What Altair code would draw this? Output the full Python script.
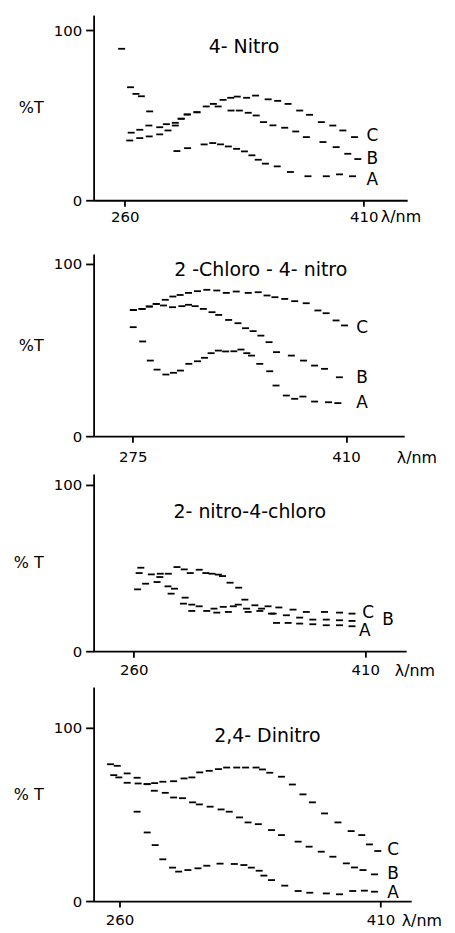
import altair as alt
import pandas as pd

FONT = "DejaVu Sans"

# ---------------- Panel 1 : 4-Nitro ----------------
P1_A_NM = [258, 263.6, 267, 270.4, 275.6, 292.7, 299.4, 309.8, 315.2, 320.1, 325, 330.2, 335.1,
           339.8, 343.8, 348.3, 355.7, 364, 375, 386.5, 394.8, 403]
P1_A_T = [89, 66.4, 62.5, 61.1, 52.2, 28.9, 30.6, 32.8, 33.6, 32.8, 31.6, 30.2, 28.7,
          26.4, 23.8, 21.5, 19.9, 16.6, 14.1, 14.1, 15.2, 14.1]
P1_B_NM = [264, 269.4, 275.1, 281.9, 286.1, 291.7, 295.4, 299.2, 305.3, 318.6, 326.7, 331.9,
           337.5, 342.5, 347.1, 353, 360.4, 367.3, 374, 384.4, 392.7, 400, 406.3]
P1_B_T = [39.7, 41.4, 43.9, 42.9, 44.7, 45.5, 47.9, 50.4, 51.7, 55.1, 52.7, 52.7,
          51.4, 49.8, 45.9, 44, 42.6, 40.4, 37.1, 34.2, 31.2, 27.3, 24.2]
P1_C_NM = [263.1, 269.4, 275.3, 281.9, 287.1, 291.7, 295.4, 299.2, 305.3, 311.1, 315.6, 321.7,
           326.5, 330.6, 336.5, 342.1, 350, 356, 362.5, 369.8, 376, 383.4, 390.6, 396.9, 404.2]
P1_C_T = [35.1, 36.5, 37.5, 38.7, 41, 43.9, 47.9, 50.4, 51.7, 55.1, 56.6, 59,
          60.2, 60.9, 60.2, 61.5, 59.3, 58.4, 56.6, 52.7, 50.2, 45.9, 43.9, 41, 37.1]

# ---------------- Panel 2 : 2-Chloro-4-nitro ----------------
P2_A_NM = [275.3, 281.3, 286.1, 290.4, 296, 300.8, 305.2, 310.5, 316, 320.4, 324.6, 329.2, 333.8,
           339, 343.5, 347.2, 350.2, 355.4, 361.7, 365.7, 372.2, 377.5, 382.7, 390.1, 398.9, 404.8]
P2_A_T = [63.3, 55, 43.9, 38.7, 35.8, 36.8, 38.1, 42, 43.5, 45.5, 48.2, 49.7, 49.2,
          49.3, 50.3, 48.2, 46.8, 42, 37.7, 29.4, 23.6, 21.7, 23, 20.1, 19.7, 19.2]
P2_B_NM = [275.4, 280.9, 285.5, 289.9, 294.5, 300.2, 306.1, 310.3, 314.5, 319.7, 325.2, 329.4,
           335.7, 341.6, 346.4, 351.2, 356.1, 361.3, 366, 375.4, 383.1, 390.1, 396.4, 405.8]
P2_B_T = [73.3, 73.9, 75.3, 76.8, 75.9, 74.9, 75.5, 76.3, 75.5, 73.9, 72, 70.4,
          67.5, 65.6, 62.7, 61, 58.4, 54.6, 48.8, 46.8, 43.9, 41, 39.1, 34.2]
P2_C_NM = [275.4, 280.9, 285.5, 289.9, 295.6, 300.4, 305, 310.3, 316, 321.9, 328.2, 334.2, 340.5,
           348.1, 354.4, 360, 365, 371.2, 377.5, 384.8, 392.2, 397.4, 403.7, 409]
P2_C_T = [73.3, 73.9, 75.3, 76.8, 79.2, 81.1, 82, 83.2, 84.2, 85, 84.6, 83.2, 84,
          83.2, 83.6, 81.7, 80.7, 79.7, 78.4, 77.2, 73, 71.4, 67.2, 64.3]

# ---------------- Panel 3 : 2-nitro-4-chloro ----------------
P3_A_NM = [262.5, 267.7, 275.1, 284.2, 292.2, 297.6, 307.3, 313.8, 321.3, 334.1, 341.7, 349.2,
           352.5, 360, 367.5, 376, 384.7, 393.3, 401.4]
P3_A_T = [37.2, 40.6, 41.6, 34.6, 28.6, 24.2, 24.2, 23.2, 23.6, 23.6, 24.2, 22.6,
          17, 17, 16.6, 16.2, 15.6, 15.6, 15]
P3_B_NM = [263.5, 271.4, 276.9, 282.2, 286.4, 293.3, 297.6, 302.4, 312, 318, 324.5, 327.7, 333.1,
           342.8, 350.3, 358.9, 367.5, 376, 384.7, 393.3, 401.4]
P3_B_T = [47, 46.2, 44.6, 39, 37.6, 32.2, 28, 27, 25.6, 26.6, 27, 28, 25.6,
          25.6, 22.6, 21.6, 20.2, 19, 19, 18.6, 18.2]
P3_C_NM = [264.6, 277.2, 282.4, 288, 292.7, 296.6, 302.4, 306.7, 310.7, 314.8, 317.5, 322.4, 328,
           332, 338.5, 347, 354, 363.2, 371.8, 383.6, 393.3, 401.4]
P3_C_T = [50.2, 46.6, 46.6, 50.6, 49.2, 47, 49, 47, 46.6, 46, 45.2, 41.2, 38.2,
          31, 27.6, 27, 26.3, 25, 23.6, 23.6, 23.2, 22.6]

# ---------------- Panel 4 : 2,4-Dinitro ----------------
P4_A_NM = [270.1, 275.9, 280.5, 284.9, 290.5, 294, 299.3, 305.1, 310.2, 317.8, 326, 331.5, 335.8,
           340.3, 343, 347.4, 355, 362.7, 369.4, 378.9, 386.5, 394.1, 400.8, 406.6]
P4_A_T = [51.6, 39.6, 32.3, 24.1, 19.3, 17, 17.9, 18.9, 20.4, 21.6, 21.4, 20.8, 19.3,
          17.5, 14.7, 12.1, 8.9, 5.8, 4.8, 4.4, 3.9, 5.8, 6, 5.4]
P4_B_NM = [254.8, 258.7, 264.4, 270.1, 275.9, 280, 286.3, 291.1, 296.2, 302, 305.9, 312.1, 318.4,
           323.1, 329, 333.9, 339.8, 347.4, 353.1, 362.7, 369, 376, 382.7, 390.4, 395.1, 400, 406.6]
P4_B_T = [79, 78.1, 73.7, 71.2, 67.5, 63.7, 62.5, 59.8, 59.4, 57, 55.8, 54.5, 52.9,
          51.6, 48.3, 45.4, 44.4, 41, 38.1, 34.3, 31.4, 28.5, 25.6, 21.8, 19.4, 17.9, 15.4]
P4_C_NM = [256.7, 259.6, 264.4, 270.7, 275.9, 280.2, 284.9, 291.1, 297.1, 301.6, 306.1, 311.6,
           316.9, 321.6, 327.4, 332.5, 338.5, 342.2, 346.4, 353.1, 359.4, 365.5, 370.9, 377.9,
           385.6, 393.2, 399.3, 403.7, 408.5]
P4_C_T = [72.7, 71.4, 68.3, 67.9, 67.5, 68.1, 68.9, 69.2, 70.8, 71.4, 74.3, 75.2,
          76.2, 77.1, 77.1, 77.1, 77.1, 76, 74.1, 71.8, 67.3, 61.6, 57, 50.6,
          45.4, 40.4, 38.1, 32.7, 28.9]

# ---------------- panel texts ----------------
TITLES = ["4- Nitro", "2 -Chloro - 4- nitro", "2- nitro-4-chloro", "2,4- Dinitro"]
TITLE_POS = [(334.8, 90.2), (356, 96.2), (335.2, 83.7), (345, 95.3)]
CURVE_LABELS = ["A", "B", "C"]
LABEL_NM = [[411.7, 411.7, 411.7], [416.5, 416.5, 416.5], [406, 421, 408], [414, 414, 414]]
LABEL_T = [[11.7, 24, 37.5], [19, 33.5, 63], [12, 18.6, 22.8], [4.4, 15.4, 29.2]]
Y_TITLES = ["%T", "%T", "% T", "% T"]
X_TICKS = [[260, 410], [275, 410], [260, 410], [260, 410]]
Y_TICKS = [0, 100]
X_DOMAINS = [[240.4, 437.3], [250.25, 446.8], [234.0, 436.5], [245.1, 427.7]]
Y_MAX = [108.8, 105.8, 106.6, 123.6]

# layout (pixels)
WIDTHS = [315, 312, 314, 319]
HEIGHTS = [186, 183, 178, 215]
LABEL_PAD = [3, 7, 5, 6]
TITLE_PAD = [10, 10, 10, 10]
UNIT_X = [288, 304, 302, 309]
UNIT_Y = [16.5, 21, 19, 20]

DATA = [
    (P1_A_NM, P1_A_T, P1_B_NM, P1_B_T, P1_C_NM, P1_C_T),
    (P2_A_NM, P2_A_T, P2_B_NM, P2_B_T, P2_C_NM, P2_C_T),
    (P3_A_NM, P3_A_T, P3_B_NM, P3_B_T, P3_C_NM, P3_C_T),
    (P4_A_NM, P4_A_T, P4_B_NM, P4_B_T, P4_C_NM, P4_C_T),
]


def make_panel(i):
    a_nm, a_t, b_nm, b_t, c_nm, c_t = DATA[i]
    rows = []
    for name, nms, ts in (("A", a_nm, a_t), ("B", b_nm, b_t), ("C", c_nm, c_t)):
        for n, t in zip(nms, ts):
            rows.append({"nm": n, "t": t, "series": name})
    df = pd.DataFrame(rows)
    lab = pd.DataFrame({"nm": LABEL_NM[i], "t": LABEL_T[i], "txt": CURVE_LABELS})
    ttl = pd.DataFrame({"nm": [TITLE_POS[i][0]], "t": [TITLE_POS[i][1]], "txt": [TITLES[i]]})

    x = alt.X(
        "nm:Q",
        scale=alt.Scale(domain=X_DOMAINS[i], nice=False, zero=False),
        axis=alt.Axis(
            values=X_TICKS[i], format="d", title="λ/nm", titleX=UNIT_X[i],
            titleY=UNIT_Y[i], titleAlign="left", titleBaseline="middle",
            labelPadding=LABEL_PAD[i], tickSize=6,
        ),
    )
    y = alt.Y(
        "t:Q",
        scale=alt.Scale(domain=[0, Y_MAX[i]], nice=False),
        axis=alt.Axis(
            values=Y_TICKS, format="d", title=Y_TITLES[i], titleAngle=0, titleAlign="right",
            titleBaseline="middle", titlePadding=TITLE_PAD[i], labelPadding=4, tickSize=8,
        ),
    )
    dashes = alt.Chart(df).mark_tick(
        orient="horizontal", size=7, thickness=1.8, color="black", opacity=1
    ).encode(x=x, y=y, detail="series:N")
    labels = alt.Chart(lab).mark_text(
        align="left", baseline="middle", fontSize=17, font=FONT, color="black"
    ).encode(x=x, y=y, text="txt:N")
    title = alt.Chart(ttl).mark_text(
        align="center", baseline="middle", fontSize=19, font=FONT, color="black"
    ).encode(x=x, y=y, text="txt:N")
    return alt.layer(dashes, labels, title).properties(width=WIDTHS[i], height=HEIGHTS[i])


panels = [make_panel(i) for i in range(4)]
inner = alt.concat(panels[1], panels[2], panels[3], columns=1, align="none", spacing=9)
chart = alt.concat(panels[0], inner, columns=1, align="none", spacing=29).properties(
    padding={"left": 5, "top": 5, "right": 5, "bottom": 5}
).configure_view(stroke=None).configure_axis(
    grid=False,
    domainColor="black",
    domainWidth=1.8,
    tickColor="black",
    tickWidth=1.8,
    labelColor="black",
    labelFont=FONT,
    labelFontSize=15,
    titleColor="black",
    titleFont=FONT,
    titleFontSize=16,
    titleFontWeight="normal",
)

chart.save("out.html", embed_options={"renderer": "svg", "actions": False})
